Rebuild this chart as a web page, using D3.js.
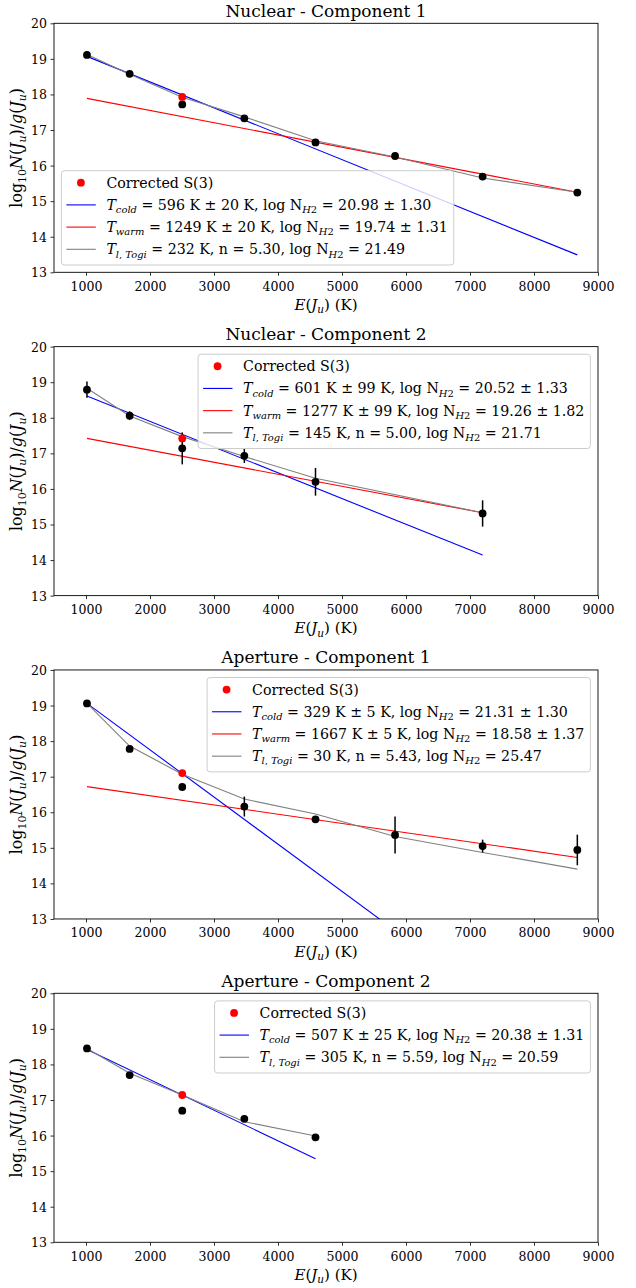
<!DOCTYPE html>
<html lang="en">
<head>
<meta charset="UTF-8">
<title>H2 excitation diagrams</title>
<script src="https://d3js.org/d3.v7.min.js"></script>
<style>
  body { margin: 0; background: #fff; }
  svg { display: block; }
  svg text { font-family: "DejaVu Serif", "Liberation Serif", serif; }
</style>
</head>
<body>
<svg id="chart" width="636" height="1288"></svg>
<script>
(function () {
  'use strict';

  const FONT = '"DejaVu Serif", "Liberation Serif", serif';

  // upper level energies of the H2 S(1)..S(8) transitions, in K
  const energies = [1015, 1682, 2504, 3474, 4586, 5829, 7197, 8677];
  const xTicks = [1000, 2000, 3000, 4000, 5000, 6000, 7000, 8000, 9000];
  const yTicks = [13, 14, 15, 16, 17, 18, 19, 20];
  const titles = ['Nuclear - Component 1', 'Nuclear - Component 2',
                  'Aperture - Component 1', 'Aperture - Component 2'];

  // Nuclear - Component 1
  const nuc1E = energies;
  const nuc1Obs = [19.11, 18.58, 17.72, 17.33, 16.65, 16.27, 15.69, 15.24];
  const nuc1Err = [0.04, 0.04, 0.04, 0.04, 0.04, 0.04, 0.04, 0.04];
  const nuc1S3 = 17.93;
  const nuc1Cold = [19.07, 13.49];
  const nuc1Warm = [17.89, 15.25];
  const nuc1Togi = [19.12, 18.57, 17.92, 17.37, 16.70, 16.24, 15.65, 15.25];

  // Nuclear - Component 2
  const nuc2E = [1015, 1682, 2504, 3474, 4586, 7197];
  const nuc2Obs = [18.79, 18.06, 17.14, 16.93, 16.20, 15.31];
  const nuc2Err = [0.23, 0.12, 0.45, 0.20, 0.39, 0.37];
  const nuc2S3 = 17.42;
  const nuc2Cold = [18.61, 14.14];
  const nuc2Warm = [17.42, 15.33];
  const nuc2Togi = [18.83, 18.05, 17.47, 16.91, 16.30, 15.33];

  // Aperture - Component 1
  const ap1E = energies;
  const ap1Obs = [19.06, 17.78, 16.71, 16.16, 15.80, 15.36, 15.05, 14.94];
  const ap1Err = [0.04, 0.06, 0.04, 0.28, 0.05, 0.52, 0.18, 0.43];
  const ap1S3 = 17.10;
  const ap1Cold = [19.06, 8.90];
  const ap1Warm = [16.72, 14.73];
  const ap1Togi = [19.06, 17.86, 17.07, 16.37, 15.95, 15.32, 14.87, 14.40];

  // Aperture - Component 2
  const ap2E = [1015, 1682, 2504, 3474, 4586];
  const ap2Obs = [18.45, 17.70, 16.70, 16.47, 15.95];
  const ap2Err = [0.05, 0.08, 0.04, 0.08, 0.04];
  const ap2S3 = 17.14;
  const ap2Cold = [18.42, 15.35];
  const ap2Togi = [18.45, 17.75, 17.14, 16.39, 15.99];

  // legend strings: [text, style]; i = italic, si = italic subscript, sn = upright subscript
  const coldLabel = (t, n) => [['T', 'i'], ['cold', 'si'], [' = ' + t + ', log N', 'n'], ['H', 'si'], ['2', 'sn'], [' = ' + n, 'n']];
  const warmLabel = (t, n) => [['T', 'i'], ['warm', 'si'], [' = ' + t + ', log N', 'n'], ['H', 'si'], ['2', 'sn'], [' = ' + n, 'n']];
  const togiLabel = (t, k, n) => [['T', 'i'], ['l', 'si'], [', ', 'sn'], ['Togi', 'si'], [' = ' + t + ', n = ' + k + ', log N', 'n'], ['H', 'si'], ['2', 'sn'], [' = ' + n, 'n']];

  const panels = [
    { E: nuc1E, obs: nuc1Obs, err: nuc1Err, s3: nuc1S3, cold: nuc1Cold, warm: nuc1Warm, togi: nuc1Togi, corner: 'lower left',
      labels: [coldLabel('596 K ± 20 K', '20.98 ± 1.30'), warmLabel('1249 K ± 20 K', '19.74 ± 1.31'), togiLabel('232 K', '5.30', '21.49')] },
    { E: nuc2E, obs: nuc2Obs, err: nuc2Err, s3: nuc2S3, cold: nuc2Cold, warm: nuc2Warm, togi: nuc2Togi, corner: 'upper right',
      labels: [coldLabel('601 K ± 99 K', '20.52 ± 1.33'), warmLabel('1277 K ± 99 K', '19.26 ± 1.82'), togiLabel('145 K', '5.00', '21.71')] },
    { E: ap1E, obs: ap1Obs, err: ap1Err, s3: ap1S3, cold: ap1Cold, warm: ap1Warm, togi: ap1Togi, corner: 'upper right',
      labels: [coldLabel('329 K ± 5 K', '21.31 ± 1.30'), warmLabel('1667 K ± 5 K', '18.58 ± 1.37'), togiLabel('30 K', '5.43', '25.47')] },
    { E: ap2E, obs: ap2Obs, err: ap2Err, s3: ap2S3, cold: ap2Cold, warm: null, togi: ap2Togi, corner: 'upper right',
      labels: [coldLabel('507 K ± 25 K', '20.38 ± 1.31'), null, togiLabel('305 K', '5.59', '20.59')] }
  ];

  const svg = d3.select('#chart');
  const left = 54, right = 598, firstTop = 23.3, pitch = 323.33, plotH = 249;
  const legendSize = 14.2;
  const x = d3.scaleLinear().domain([500, 9000]).range([left, right]);
  const lineGen = d3.line().x(d => x(d[0]));

  function writeRich(textSel, segs, size) {
    let sub = false;
    segs.forEach(([str, style]) => {
      const isSub = style === 'si' || style === 'sn';
      const t = textSel.append('tspan').text(str);
      if (isSub !== sub) t.attr('dy', isSub ? size * 0.23 : -size * 0.23);
      if (isSub) t.attr('font-size', size * 0.7);
      if (style === 'i' || style === 'si') t.attr('font-style', 'italic');
      sub = isSub;
    });
  }

  panels.forEach((p, i) => {
    const top = firstTop + i * pitch, bottom = top + plotH;
    const y = d3.scaleLinear().domain([13, 20]).range([bottom, top]);
    lineGen.y(d => y(d[1]));
    const g = svg.append('g');

    g.append('clipPath').attr('id', 'clip' + i)
      .append('rect').attr('x', left).attr('y', top).attr('width', right - left).attr('height', plotH);

    // axes
    const xa = g.append('g').attr('transform', `translate(0,${bottom})`)
      .call(d3.axisBottom(x).tickValues(xTicks).tickFormat(d3.format('d')).tickSize(3.5).tickSizeOuter(0));
    xa.selectAll('text').attr('dy', null).attr('y', 18.4);
    const ya = g.append('g').attr('transform', `translate(${left},0)`)
      .call(d3.axisLeft(y).tickValues(yTicks).tickFormat(d3.format('d')).tickSize(3.5).tickPadding(3.5).tickSizeOuter(0));
    ya.selectAll('text').attr('dy', '0.36em');
    g.selectAll('.domain').remove();
    g.selectAll('g').attr('font-family', FONT);
    g.selectAll('.tick text').attr('font-size', 12.5).attr('font-family', FONT).attr('fill', '#000');
    g.selectAll('.tick line').attr('stroke', '#000').attr('stroke-width', 0.8);

    // model lines
    const lines = g.append('g').attr('clip-path', `url(#clip${i})`).attr('fill', 'none').attr('stroke-width', 1.1);
    const ends = [p.E[0], p.E[p.E.length - 1]];
    lines.append('path').attr('stroke', '#0000ff').attr('d', lineGen(d3.zip(ends, p.cold)));
    if (p.warm) lines.append('path').attr('stroke', '#ff0000').attr('d', lineGen(d3.zip(ends, p.warm)));
    lines.append('path').attr('stroke', '#808080').attr('d', lineGen(d3.zip(p.E, p.togi)));

    // observed points with error bars
    const pts = d3.zip(p.E, p.obs, p.err);
    g.append('g').selectAll('line').data(pts).join('line')
      .attr('x1', d => x(d[0])).attr('x2', d => x(d[0]))
      .attr('y1', d => y(d[1] - d[2])).attr('y2', d => y(d[1] + d[2]))
      .attr('stroke', '#000').attr('stroke-width', 1.5);
    g.append('g').selectAll('circle').data(pts).join('circle')
      .attr('cx', d => x(d[0])).attr('cy', d => y(d[1])).attr('r', 3.9).attr('fill', '#000');
    g.append('circle').attr('cx', x(2504)).attr('cy', y(p.s3)).attr('r', 3.9).attr('fill', '#ff0000');

    // frame
    g.append('rect').attr('x', left).attr('y', top).attr('width', right - left).attr('height', plotH)
      .attr('fill', 'none').attr('stroke', '#000').attr('stroke-width', 0.9);

    // title and axis labels
    g.append('text').attr('x', (left + right) / 2).attr('y', top - 6.6).attr('text-anchor', 'middle')
      .attr('font-family', FONT).attr('font-size', 17).text(titles[i]);
    const xl = g.append('text').attr('x', (left + right) / 2).attr('y', bottom + 37.7)
      .attr('text-anchor', 'middle').attr('font-family', FONT).attr('font-size', 15);
    writeRich(xl, [['E', 'i'], ['(', 'n'], ['J', 'i'], ['u', 'si'], [') (K)', 'n']], 15);
    const yl = g.append('text').attr('transform', `translate(22,${(top + bottom) / 2}) rotate(-90)`)
      .attr('text-anchor', 'middle').attr('font-family', FONT).attr('font-size', 15.8);
    writeRich(yl, [['log', 'n'], ['10', 'sn'], ['N', 'i'], ['(', 'n'], ['J', 'i'], ['u', 'si'], [')/', 'n'],
                   ['g', 'i'], ['(', 'n'], ['J', 'i'], ['u', 'si'], [')', 'n']], 15.8);

    // legend
    const entries = [{ kind: 'dot', segs: [['Corrected S(3)', 'n']] }];
    const colors = ['#0000ff', '#ff0000', '#808080'];
    p.labels.forEach((l, k) => { if (l) entries.push({ kind: 'line', color: colors[k], segs: l }); });
    const leg = g.append('g');
    const box = leg.append('rect').attr('rx', 3).attr('fill', 'rgba(255,255,255,0.8)')
      .attr('stroke', '#cccccc').attr('stroke-width', 1);
    let maxW = 0;
    entries.forEach((e, k) => {
      const cy = 12 + k * 22.2;
      if (e.kind === 'dot') {
        leg.append('circle').attr('cx', 19.5).attr('cy', cy).attr('r', 3.9).attr('fill', '#ff0000');
      } else {
        leg.append('line').attr('x1', 5).attr('x2', 34.4).attr('y1', cy).attr('y2', cy)
          .attr('stroke', e.color).attr('stroke-width', 1.1);
      }
      const t = leg.append('text').attr('x', 45).attr('y', cy + 5)
        .attr('font-family', FONT).attr('font-size', legendSize);
      writeRich(t, e.segs, legendSize);
      maxW = Math.max(maxW, t.node().getComputedTextLength());
    });
    const bw = 45 + maxW + 6, bh = 12 + (entries.length - 1) * 22.2 + 15.7;
    box.attr('width', bw).attr('height', bh);
    if (p.corner === 'lower left') {
      leg.attr('transform', `translate(${left + 7.4},${bottom - 7.3 - bh})`);
    } else {
      leg.attr('transform', `translate(${right - 7.6 - bw},${top + 7.6})`);
    }
  });
}());
</script>
</body>
</html>
